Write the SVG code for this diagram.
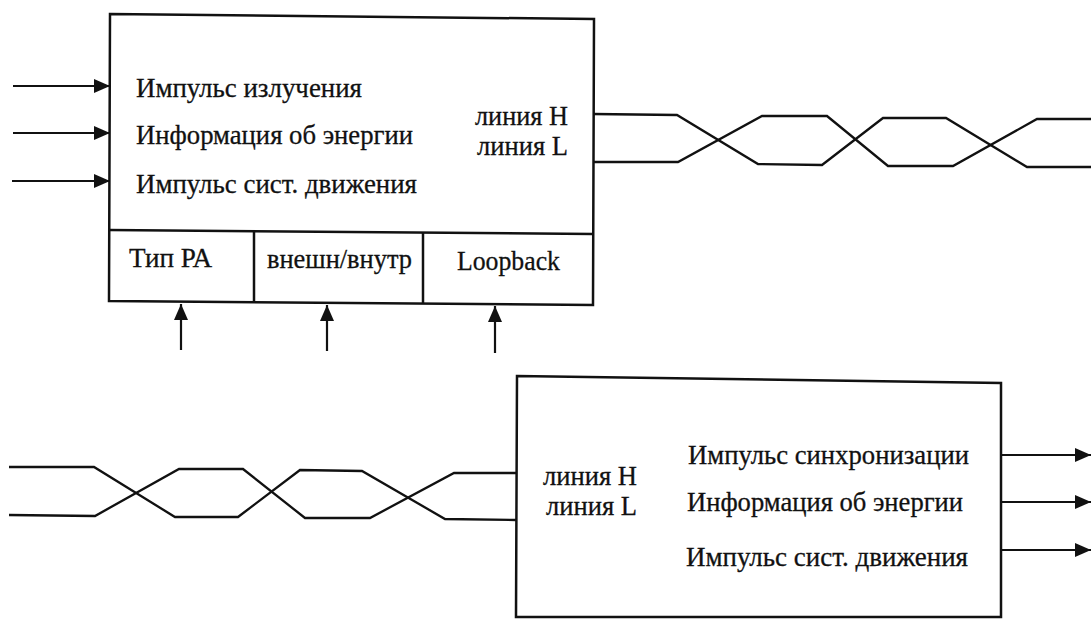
<svg xmlns="http://www.w3.org/2000/svg" width="1091" height="619" viewBox="0 0 1091 619">
<defs>
<style>
.box{fill:#fff;stroke:#111;stroke-width:2.5;stroke-linejoin:miter}
.div{stroke:#111;stroke-width:2.5;fill:none}
.wire{fill:none;stroke:#111;stroke-width:2.3;stroke-linejoin:miter}
.arr{stroke:#111;stroke-width:2.2;fill:none;marker-end:url(#ah)}
.t{font-family:'Liberation Serif','Times New Roman',serif;fill:#111;stroke:#111;stroke-width:0.3;font-size:28px}
</style>
<marker id="ah" markerUnits="userSpaceOnUse" markerWidth="18" markerHeight="16" refX="16" refY="8" orient="auto">
<path d="M0,1 L16,8 L0,15 Z" fill="#111"/>
</marker>
</defs>
<rect width="1091" height="619" fill="#fff"/>
<g id="transmitter">
<polygon class="box" points="110,14 594,19 593,305 109,301"/>
<line class="div" x1="109" y1="230" x2="593" y2="234"/>
<line class="div" x1="254" y1="231" x2="254" y2="302"/>
<line class="div" x1="423" y1="233" x2="423" y2="304"/>
<g class="t" font-family="Liberation Serif, Times New Roman, serif">
<text x="136" y="97" textLength="226" lengthAdjust="spacingAndGlyphs">Импульс излучения</text>
<text x="136" y="144" textLength="277" lengthAdjust="spacingAndGlyphs">Информация об энергии</text>
<text x="136" y="193" textLength="281" lengthAdjust="spacingAndGlyphs">Импульс сист. движения</text>
<text x="475" y="125" textLength="93" lengthAdjust="spacingAndGlyphs">линия H</text>
<text x="477" y="155" textLength="91" lengthAdjust="spacingAndGlyphs">линия L</text>
<text x="129" y="267" textLength="83" lengthAdjust="spacingAndGlyphs">Тип РА</text>
<text x="267" y="268" textLength="145" lengthAdjust="spacingAndGlyphs">внешн/внутр</text>
<text x="457" y="270" textLength="103" lengthAdjust="spacingAndGlyphs">Loopback</text>
</g>
</g>
<g id="receiver">
<polygon class="box" points="517,376 1001,383 1001,617 516,617"/>
<g class="t" font-family="Liberation Serif, Times New Roman, serif">
<text x="543" y="485" textLength="94" lengthAdjust="spacingAndGlyphs">линия H</text>
<text x="546" y="515" textLength="91" lengthAdjust="spacingAndGlyphs">линия L</text>
<text x="688" y="464" textLength="281" lengthAdjust="spacingAndGlyphs">Импульс синхронизации</text>
<text x="687" y="511" textLength="276" lengthAdjust="spacingAndGlyphs">Информация об энергии</text>
<text x="686" y="566" textLength="282" lengthAdjust="spacingAndGlyphs">Импульс сист. движения</text>
</g>
</g>
<g id="connectors">
<line class="arr" x1="13" y1="86" x2="110" y2="86"/>
<line class="arr" x1="13" y1="133" x2="110" y2="133"/>
<line class="arr" x1="12" y1="181" x2="110" y2="181"/>
<line class="arr" x1="181" y1="350" x2="181" y2="304"/>
<line class="arr" x1="327" y1="351" x2="327" y2="305"/>
<line class="arr" x1="495" y1="353" x2="495" y2="306"/>
<path class="wire" d="M593,114 L677,115 L758,164 L822,165 L883,118 L946,118 L1027,167 L1091,167"/>
<path class="wire" d="M593,162 L678,162 L762,116 L827,116 L888,166 L953,166 L1037,119 L1091,119"/>
<path class="wire" d="M9,467 L94,467 L175,517 L238,517 L300,470 L362,471 L445,519 L516,520"/>
<path class="wire" d="M9,515 L95,516 L179,469 L243,469 L305,518 L370,518 L454,473 L516,473"/>
<line class="arr" x1="1001" y1="455" x2="1091" y2="455"/>
<line class="arr" x1="1001" y1="502" x2="1091" y2="502"/>
<line class="arr" x1="1001" y1="550" x2="1091" y2="550"/>
</g>
</svg>
